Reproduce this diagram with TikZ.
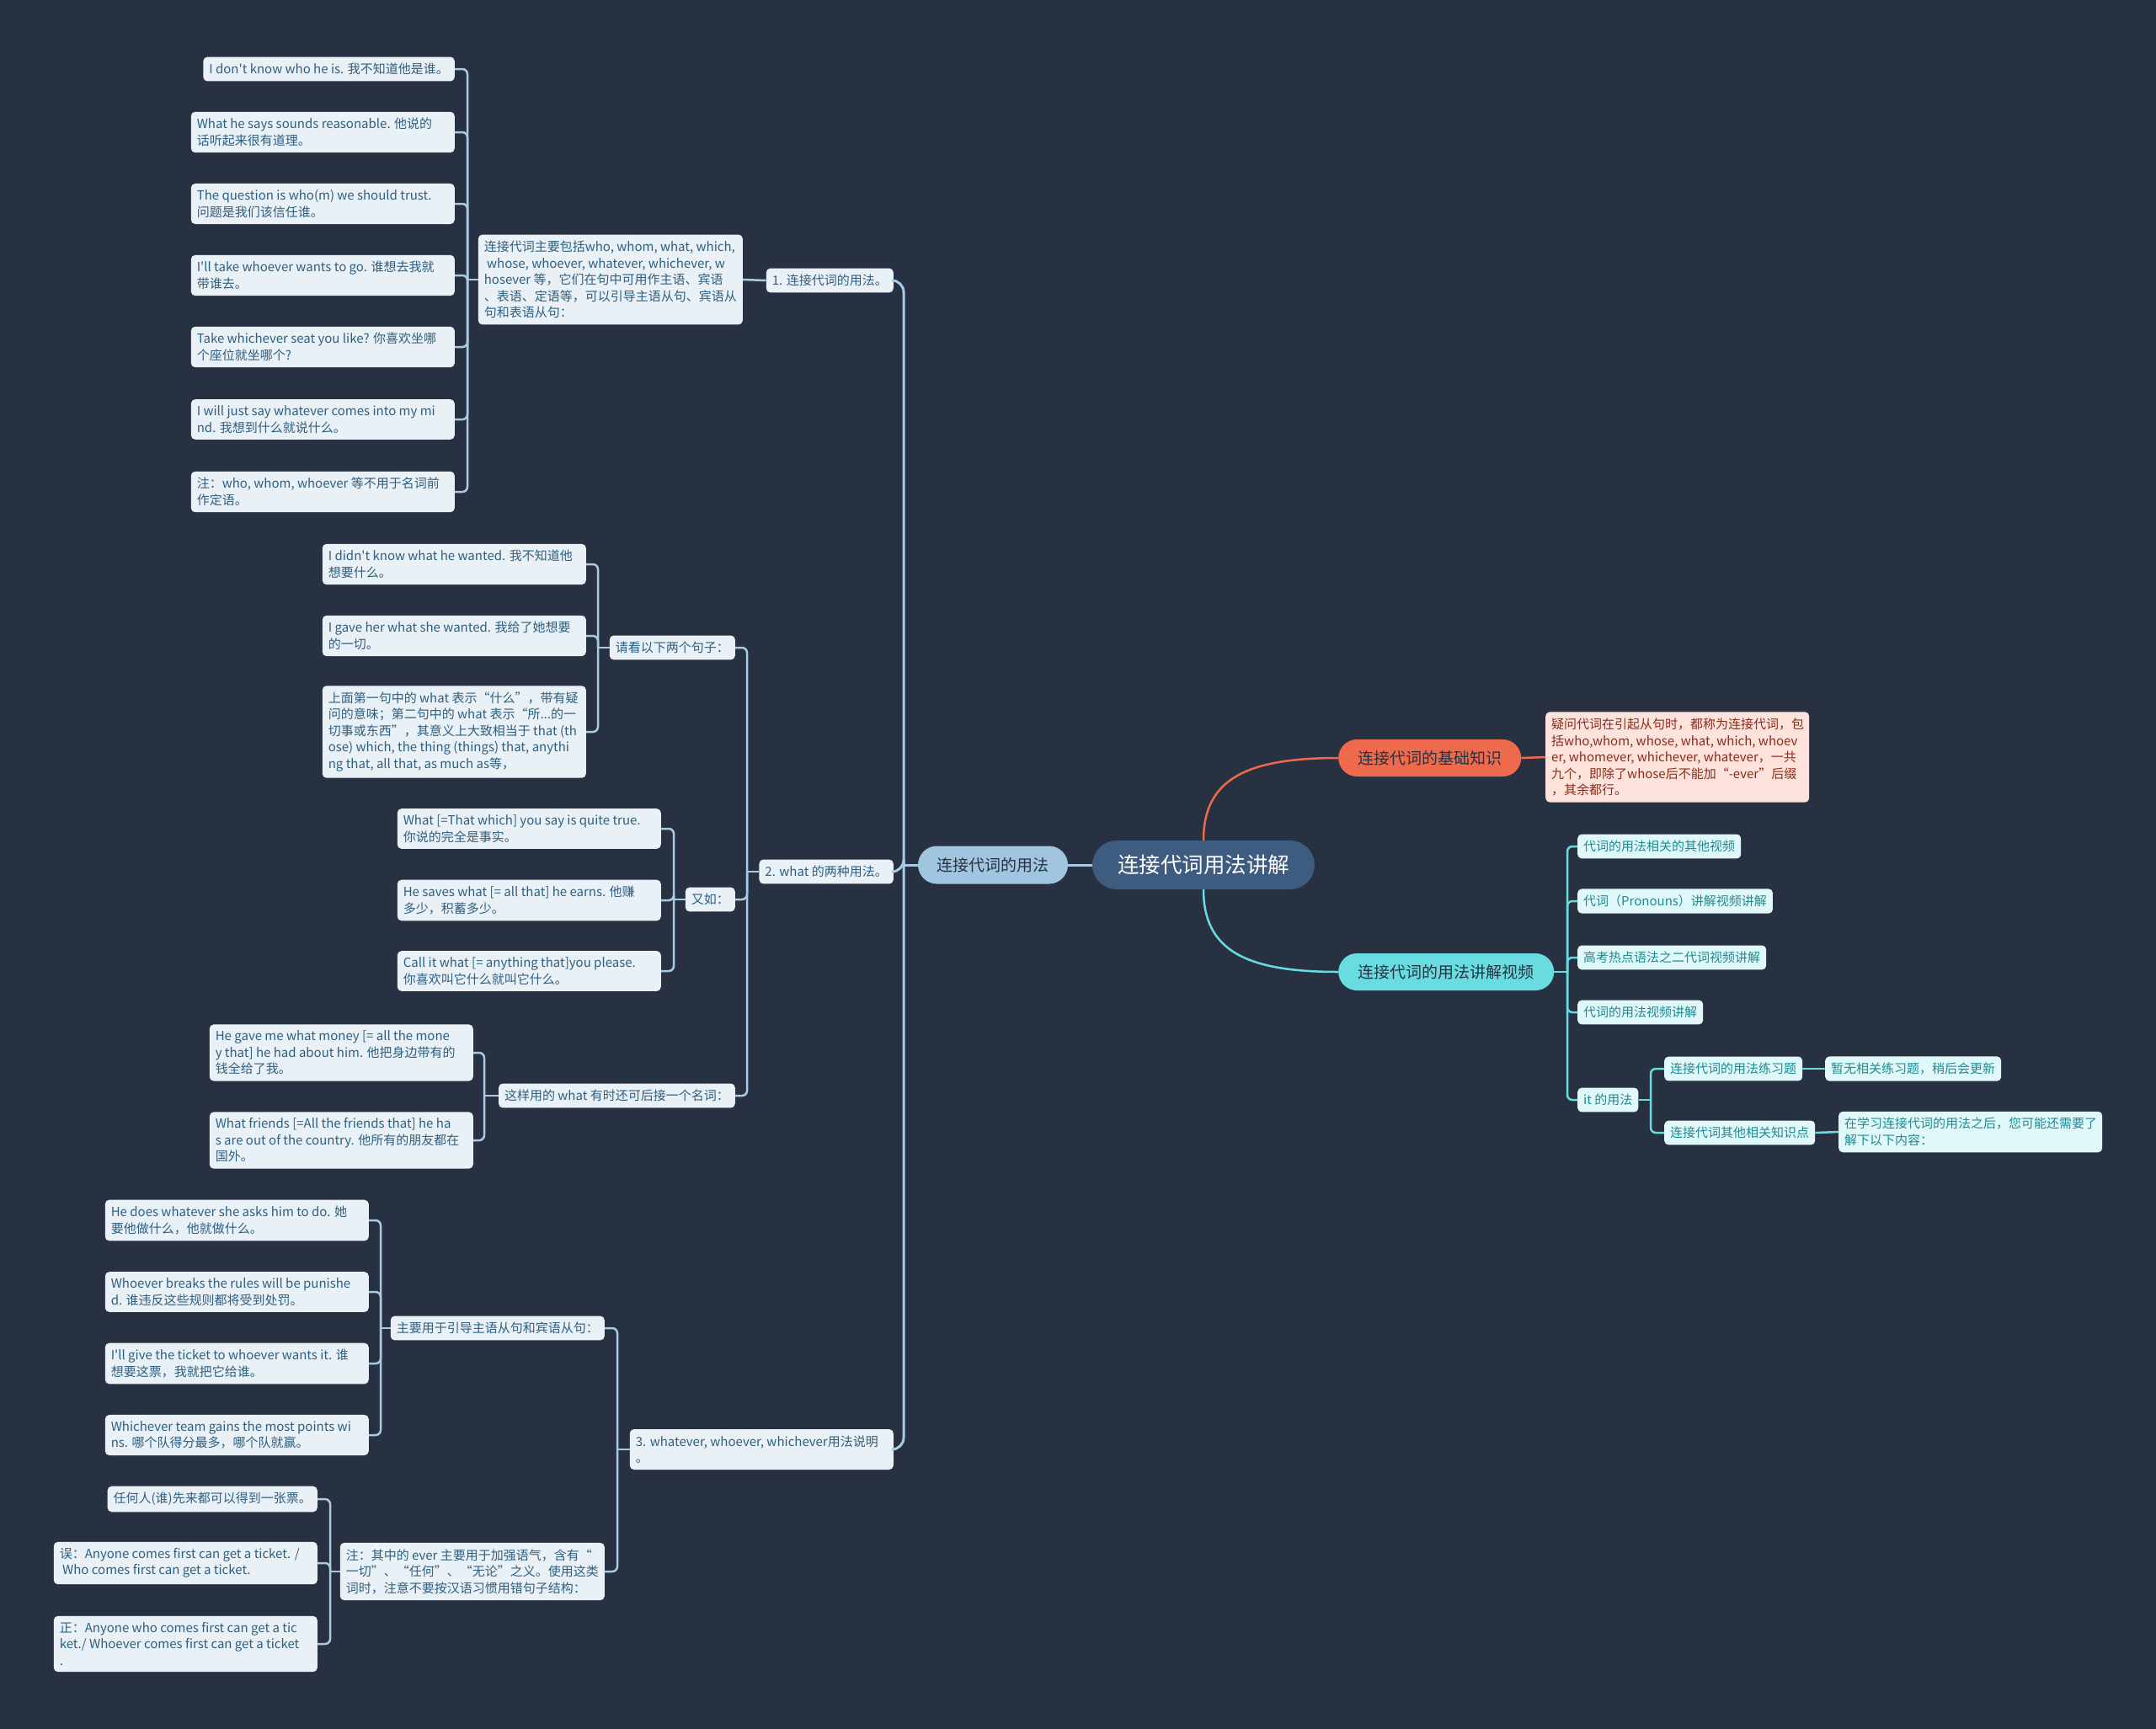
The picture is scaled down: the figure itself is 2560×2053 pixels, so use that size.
\documentclass[tikz,border=0pt]{standalone}
\usepackage{fontspec}
\setmainfont{Noto Sans CJK SC}[Ligatures=TeXOff]
\usetikzlibrary{shapes.misc}
\definecolor{bg}{HTML}{283141}
\definecolor{lfill}{HTML}{E9F1F7}
\definecolor{ltext}{HTML}{2F5F80}
\definecolor{lline}{HTML}{A8CBE3}
\definecolor{mainL}{HTML}{A0C6DF}
\definecolor{rootc}{HTML}{3E5B80}
\definecolor{orng}{HTML}{EE6A4C}
\definecolor{ofill}{HTML}{FDE3DC}
\definecolor{otext}{HTML}{8B2C1A}
\definecolor{cyan}{HTML}{69DCE2}
\definecolor{cfill}{HTML}{E1F8FA}
\definecolor{ctext}{HTML}{1E8A91}
\newcommand\fw[1]{\makebox[299pt][l]{#1}}
\newcommand\brL[4]{\draw[#1] (#2.west) -- (#2.west -| #3);\foreach \c in {#4}{\draw[#1] (#2.west -| #3) |- (\c.east);}}
\newcommand\brR[4]{\draw[#1] (#2.east) -- (#2.east -| #3);\foreach \c in {#4}{\draw[#1] (#2.east -| #3) |- (\c.west);}}
\begin{document}
\begin{tikzpicture}[x=1pt,y=-1pt,
  leafL/.style={fill=lfill, text=ltext, rounded corners=5, inner xsep=7, inner ysep=7.5, align=left, font=\fontsize{15}{19.5}\selectfont},
  leafO/.style={leafL, fill=ofill, text=otext},
  leafC/.style={leafL, fill=cfill, text=ctext},
  pill/.style={rounded rectangle, inner xsep=4, inner ysep=4, font=\fontsize{19}{23}\selectfont},
  connL/.style={draw=lline, line width=2.5, rounded corners=6},
  connM/.style={draw=lline, line width=3, rounded corners=14},
  connO/.style={draw=orng, line width=2.5},
  connC/.style={draw=cyan, line width=2.5, rounded corners=6}
]
\useasboundingbox (0,0) rectangle (2560,2053);
\fill[bg] (0,0) rectangle (2560,2053);

% trunk coordinates
\coordinate (T0) at (1073,0);
\coordinate (T1) at (555,0);
\coordinate (T2) at (887,0);
\coordinate (T2a) at (710,0);
\coordinate (T2b) at (800,0);
\coordinate (T2c) at (575,0);
\coordinate (T3) at (733,0);
\coordinate (T3a) at (452,0);
\coordinate (T3b) at (392,0);
\coordinate (TC) at (1861,0);
\coordinate (T5) at (1960,0);

% centre
\node[pill, fill=rootc, text=white, minimum width=272, minimum height=58, font=\fontsize{25.5}{30}\selectfont] (root) at (1429,1027) {连接代词用法讲解};
\node[pill, fill=mainL, text=bg, minimum width=186, minimum height=45] (L) at (1179,1027) {连接代词的用法};
\node[pill, fill=orng, text=bg, minimum width=225, minimum height=44, anchor=west] (O) at (1589,900) {连接代词的基础知识};
\node[pill, fill=cyan, text=bg, minimum width=264, minimum height=44, anchor=west] (C) at (1589,1154) {连接代词的用法讲解视频};

% section 1
\node[leafL, anchor=east] (s1) at (1061,333) {1. 连接代词的用法。};
\node[leafL, anchor=east] (d1) at (882,332) {\fw{连接代词主要包括who, whom, what, which,}\\~whose, whoever, whatever, whichever, w\\hosever 等，它们在句中可用作主语、宾语\\、表语、定语等，可以引导主语从句、宾语从\\句和表语从句：};
\node[leafL, anchor=east] (a1) at (540,82) {I don't know who he is. 我不知道他是谁。};
\node[leafL, anchor=east] (a2) at (540,157) {\fw{What he says sounds reasonable. 他说的}\\话听起来很有道理。};
\node[leafL, anchor=east] (a3) at (540,242) {\fw{The question is who(m) we should trust.}\\问题是我们该信任谁。};
\node[leafL, anchor=east] (a4) at (540,327) {\fw{I'll take whoever wants to go. 谁想去我就}\\带谁去。};
\node[leafL, anchor=east] (a5) at (540,412) {\fw{Take whichever seat you like? 你喜欢坐哪}\\个座位就坐哪个?};
\node[leafL, anchor=east] (a6) at (540,498) {\fw{I will just say whatever comes into my mi}\\nd. 我想到什么就说什么。};
\node[leafL, anchor=east] (a7) at (540,584) {\fw{注：who, whom, whoever 等不用于名词前}\\作定语。};

% section 2
\node[leafL, anchor=east] (s2) at (1061,1035) {2. what 的两种用法。};
\node[leafL, anchor=east] (b0) at (873,769) {请看以下两个句子：};
\node[leafL, anchor=east] (b1) at (696,670) {\fw{I didn't know what he wanted. 我不知道他}\\想要什么。};
\node[leafL, anchor=east] (b2) at (696,755) {\fw{I gave her what she wanted. 我给了她想要}\\的一切。};
\node[leafL, anchor=east] (b3) at (696,869) {\fw{上面第一句中的 what 表示“什么”，带有疑}\\问的意味；第二句中的 what 表示“所...的一\\切事或东西”，其意义上大致相当于 that (th\\ose) which, the thing (things) that, anythi\\ng that, all that, as much as等，};
\node[leafL, anchor=east] (c0) at (873,1068) {又如：};
\node[leafL, anchor=east] (c1) at (785,984) {\fw{What [=That which] you say is quite true.}\\你说的完全是事实。};
\node[leafL, anchor=east] (c2) at (785,1069) {\fw{He saves what [= all that] he earns. 他赚}\\多少，积蓄多少。};
\node[leafL, anchor=east] (c3) at (785,1153) {\fw{Call it what [= anything that]you please.}\\你喜欢叫它什么就叫它什么。};
\node[leafL, anchor=east] (e0) at (873,1301) {这样用的 what 有时还可后接一个名词：};
\node[leafL, anchor=east] (e1) at (562,1250) {\fw{He gave me what money [= all the mone}\\y that] he had about him. 他把身边带有的\\钱全给了我。};
\node[leafL, anchor=east] (e2) at (562,1354) {\fw{What friends [=All the friends that] he ha}\\s are out of the country. 他所有的朋友都在\\国外。};

% section 3
\node[leafL, anchor=east] (s3) at (1061,1721) {\fw{3. whatever, whoever, whichever用法说明}\\。};
\node[leafL, anchor=east] (f0) at (718,1577) {主要用于引导主语从句和宾语从句：};
\node[leafL, anchor=east] (f1) at (438,1449) {\fw{He does whatever she asks him to do. 她}\\要他做什么，他就做什么。};
\node[leafL, anchor=east] (f2) at (438,1534) {\fw{Whoever breaks the rules will be punishe}\\d. 谁违反这些规则都将受到处罚。};
\node[leafL, anchor=east] (f3) at (438,1619) {\fw{I'll give the ticket to whoever wants it. 谁}\\想要这票，我就把它给谁。};
\node[leafL, anchor=east] (f4) at (438,1704) {\fw{Whichever team gains the most points wi}\\ns. 哪个队得分最多，哪个队就赢。};
\node[leafL, anchor=east] (g0) at (718,1866) {\fw{注：其中的 ever 主要用于加强语气，含有“}\\一切”、“任何”、“无论”之义。使用这类\\词时，注意不要按汉语习惯用错句子结构：};
\node[leafL, anchor=east] (g1) at (377,1780) {任何人(谁)先来都可以得到一张票。};
\node[leafL, anchor=east] (g2) at (377,1856) {\fw{误：Anyone comes first can get a ticket. /}\\~Who comes first can get a ticket.};
\node[leafL, anchor=east] (g3) at (377,1952) {\fw{正：Anyone who comes first can get a tic}\\ket./ Whoever comes first can get a ticket\\.};

% right side
\node[leafO, anchor=west] (o1) at (1835,899) {\fw{疑问代词在引起从句时，都称为连接代词，包}\\括who,whom, whose, what, which, whoev\\er, whomever, whichever, whatever，一共\\九个，即除了whose后不能加“-ever”后缀\\，其余都行。};
\node[leafC, anchor=west] (k1) at (1873,1005) {代词的用法相关的其他视频};
\node[leafC, anchor=west] (k2) at (1873,1070) {代词（Pronouns）讲解视频讲解};
\node[leafC, anchor=west] (k3) at (1873,1137) {高考热点语法之二代词视频讲解};
\node[leafC, anchor=west] (k4) at (1873,1202) {代词的用法视频讲解};
\node[leafC, anchor=west] (k5) at (1873,1306) {it 的用法};
\node[leafC, anchor=west] (m1) at (1976,1269) {连接代词的用法练习题};
\node[leafC, anchor=west] (m2) at (1976,1345) {连接代词其他相关知识点};
\node[leafC, anchor=west] (n1) at (2167,1269) {暂无相关练习题，稍后会更新};
\node[leafC, anchor=west] (n2) at (2183,1344) {\fw{在学习连接代词的用法之后，您可能还需要了}\\解下以下内容：};

% connectors
\draw[connM] (root.west) -- (L.east);
\brL{connM}{L}{T0}{s1,s2,s3}
\draw[connL] (s1.west) -- (d1.east);
\brL{connL}{d1}{T1}{a1,a2,a3,a4,a5,a6,a7}
\brL{connL}{s2}{T2}{b0,c0,e0}
\brL{connL}{b0}{T2a}{b1,b2,b3}
\brL{connL}{c0}{T2b}{c1,c2,c3}
\brL{connL}{e0}{T2c}{e1,e2}
\brL{connL}{s3}{T3}{f0,g0}
\brL{connL}{f0}{T3a}{f1,f2,f3,f4}
\brL{connL}{g0}{T3b}{g1,g2,g3}

\draw[connO] (root.north) .. controls (1429,925) and (1480,900) .. (O.west);
\draw[connO] (O.east) -- (o1.west);
\draw[connC, rounded corners=0] (root.south) .. controls (1429,1129) and (1480,1154) .. (C.west);
\brR{connC}{C}{TC}{k1,k2,k3,k4,k5}
\brR{connC}{k5}{T5}{m1,m2}
\draw[connC] (m1.east) -- (n1.west);
\draw[connC] (m2.east) -- (n2.west);
\end{tikzpicture}
\end{document}
